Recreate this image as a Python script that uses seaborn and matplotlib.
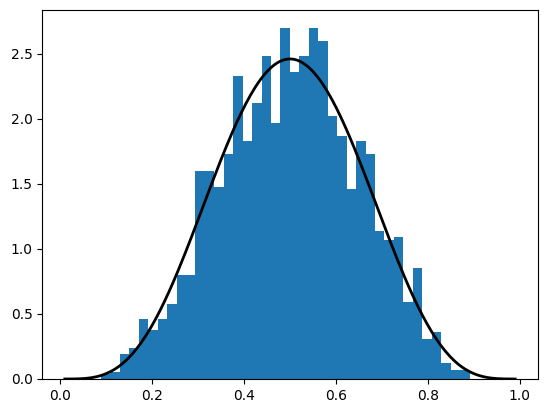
import math
import numpy as np
import pandas as pd
import matplotlib
matplotlib.use("Agg")
import matplotlib.pyplot as plt
import seaborn as sns

# Histogram (density): 39 equal bins
hist_lo = 0.0885
hist_hi = 0.8907
n_bins = 39
density = [
    0.04, 0.05, 0.19, 0.24, 0.46, 0.38, 0.46, 0.58, 0.80, 0.80,
    1.60, 1.60, 1.48, 1.73, 2.33, 1.83, 2.12, 2.48, 1.97, 2.70,
    2.36, 2.48, 2.70, 2.60, 2.02, 1.87, 1.46, 1.83, 1.73, 1.14,
    1.07, 1.09, 0.59, 0.85, 0.31, 0.36, 0.12, 0.07, 0.07,
]

# Overlaid curve: Beta(a, b) probability density
beta_a = 5
beta_b = 5
curve_lo = 0.01
curve_hi = 0.99

edges = np.linspace(hist_lo, hist_hi, n_bins + 1)
centers = (edges[:-1] + edges[1:]) / 2
hist_df = pd.DataFrame({"x": centers, "density": density})

xs = np.linspace(curve_lo, curve_hi, 200)
norm = math.gamma(beta_a + beta_b) / (math.gamma(beta_a) * math.gamma(beta_b))
curve_df = pd.DataFrame({"x": xs, "pdf": norm * xs ** (beta_a - 1) * (1 - xs) ** (beta_b - 1)})

fig = plt.figure(figsize=(5.47, 4.13), dpi=100)
ax = fig.add_axes([42.3 / 547, 34 / 413, 495.4 / 547, 368.7 / 413])

sns.histplot(data=hist_df, x="x", weights="density", bins=n_bins,
             binrange=(hist_lo, hist_hi), color="#1f77b4", alpha=1,
             edgecolor="none", linewidth=0, ax=ax)
sns.lineplot(data=curve_df, x="x", y="pdf", color="black", linewidth=2, ax=ax)

ax.set_xlim(-0.039, 1.039)
ax.set_ylim(0, 2.835)
ax.set_xlabel("")
ax.set_ylabel("")

fig.savefig("out.png", dpi=100)
